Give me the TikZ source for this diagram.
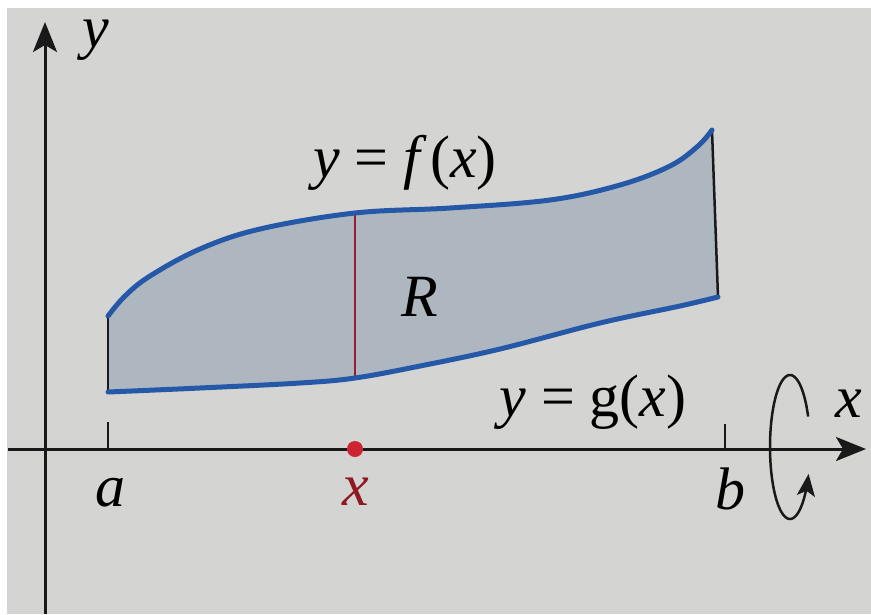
\documentclass[tikz,border=0pt]{standalone}
\usepackage{fontspec}
\setmainfont{Liberation Serif}
\usetikzlibrary{arrows.meta}
\definecolor{bg}{RGB}{212,212,210}
\definecolor{regfill}{RGB}{174,183,192}
\definecolor{curveblue}{RGB}{38,88,168}
\definecolor{redline}{RGB}{150,30,50}
\definecolor{reddot}{RGB}{205,35,50}
\definecolor{axis}{RGB}{25,25,25}
\tikzset{
  axisline/.style={line width=3pt, draw=axis, -{Stealth[length=30pt,width=24pt,inset=7pt]}},
  tickline/.style={line width=2.5pt, draw=axis},
  curve/.style={line width=5pt, draw=curveblue, line cap=round, line join=round},
  lbl/.style={font=\fontsize{60}{66}\selectfont, text=black, inner sep=0pt},
}
\begin{document}
\begin{tikzpicture}[x=1pt,y=-1pt]
\useasboundingbox (0,0) rectangle (871,614);
\fill[white] (0,0) rectangle (871,614);
\fill[bg] (7,8) rectangle (871,614);
% region
\fill[regfill] plot[smooth,tension=0.6] coordinates {(108,316) (125,296) (150,276) (200,249) (260,229) (355,213) (450,208) (550,200) (620,185) (670,166) (698,146) (712,130)}
  -- (718,297)
  -- plot[smooth,tension=0.6] coordinates {(718,297) (680,306) (600,323) (500,349) (420,366) (355,378) (300,383) (200,388) (108,392)} -- cycle;
% red slice line
\draw[redline, line width=2pt] (355,213) -- (355,378);
% vertical edges
\draw[line width=2.5pt, draw=axis] (108,318) -- (108,392);
\draw[line width=2.5pt, draw=axis] (712,130) -- (718,297);
% curves
\draw[curve] plot[smooth,tension=0.6] coordinates {(108,316) (125,296) (150,276) (200,249) (260,229) (355,213) (450,208) (550,200) (620,185) (670,166) (698,146) (712,130)};
\draw[curve] plot[smooth,tension=0.6] coordinates {(718,297) (680,306) (600,323) (500,349) (420,366) (355,378) (300,383) (200,388) (108,392)};
% axes
\coordinate (xs) at (8,449);
\coordinate (xe) at (866,449);
\coordinate (ys) at (45,614);
\coordinate (ye) at (45,22);
\draw[axisline] (xs) -- (xe);
\draw[axisline] (ys) -- (ye);
% ticks
\draw[tickline] (108,422) -- (108,449);
\draw[tickline] (725,424) -- (725,449);
% red dot
\fill[reddot] (355,449) circle (8);
% rotation arrow
\draw[line width=2.5pt, draw=axis, -{Stealth[length=22pt,width=18pt,inset=5pt]}]
  plot[domain=-25:-338, samples=80, smooth] ({790+20*cos(\x)}, {447+72*sin(\x)});
% labels
\node[lbl] (ylab) at (96,40) {\textit{y}};
\node[lbl] (xlab) at (849,404) {\textit{x}};
\node[lbl] (alab) at (110,493) {\textit{a}};
\node[lbl] (blab) at (730,489) {\textit{b}};
\node[lbl, text=reddot!70!black] (xred) at (356,492) {\textit{x}};
\node[lbl] (flab) at (405,163) {\textit{y} = \textit{f}\kern3pt(\textit{x})};
\node[lbl] (rlab) at (420,297) {\textit{R}};
\node[lbl] (glab) at (593,402) {\textit{y} = g(\textit{x})};
\end{tikzpicture}
\end{document}
